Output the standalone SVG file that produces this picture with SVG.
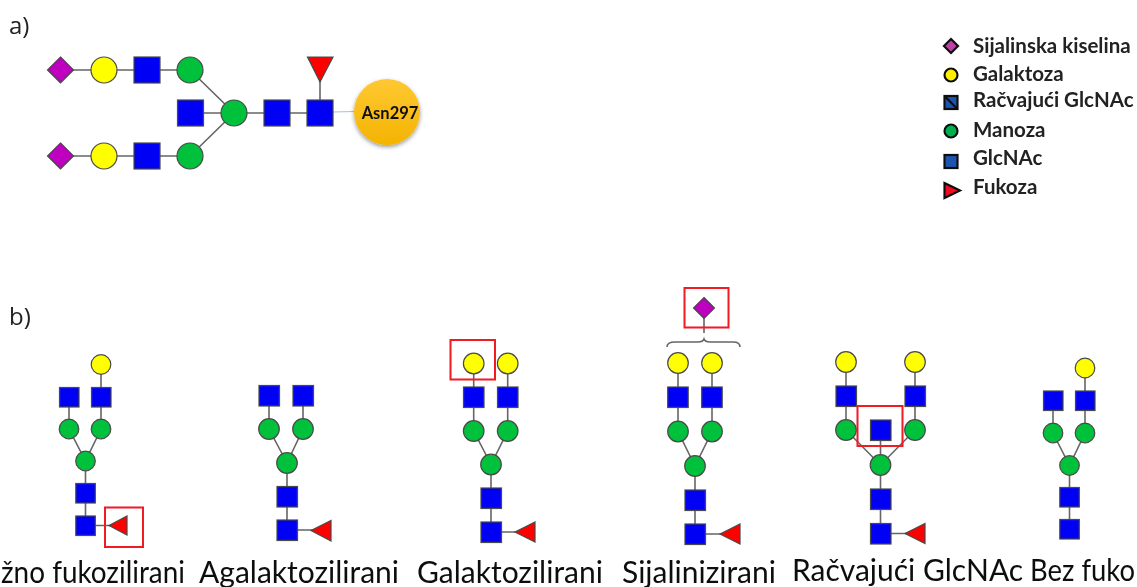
<svg xmlns="http://www.w3.org/2000/svg" width="1137" height="587" viewBox="0 0 1137 587">
<style>
.s{fill:#0000f5;stroke:#4a4a4a;stroke-width:1.2}
.g{fill:#00c13a;stroke:#4a4a4a;stroke-width:1.2}
.y{fill:#ffff00;stroke:#4a4a4a;stroke-width:1.2}
.d{fill:#c000c0;stroke:#4a4a4a;stroke-width:1.2}
.f{fill:#ff0000;stroke:#4a4a4a;stroke-width:1.2}
.c line,.c path{stroke:#666;stroke-width:1.6;fill:none}
.r{fill:none;stroke:#f01a24;stroke-width:2}
.t{font-family:Lato,"Liberation Sans",sans-serif;font-size:30px;fill:#111}
.l{font-family:"Open Sans","Liberation Sans",sans-serif;font-size:24px;fill:#222}
.k{font-family:Lato,"Liberation Sans",sans-serif;font-size:20.500px;font-weight:700;fill:#222}
.ls{stroke:#111;stroke-width:2.200}
</style>
<defs>
<linearGradient id="asnG" x1="0" y1="0" x2="0" y2="1"><stop offset="0" stop-color="#ffc833"/><stop offset="1" stop-color="#f4b400"/></linearGradient>
<filter id="sh" x="-20%" y="-20%" width="140%" height="140%"><feDropShadow dx="0" dy="2" stdDeviation="2" flood-color="#000" flood-opacity=".4"/></filter>
<filter id="soft" x="0" y="0" width="100%" height="100%"><feGaussianBlur stdDeviation="0.450"/></filter>
</defs>
<rect width="1137" height="587" fill="#fff"/>
<g filter="url(#soft)">
<text class="l" x="9" y="34">a)</text>
<text class="l" x="9" y="325">b)</text>
<g class="c" id="connectors">
<path d="M60 70H190M60 156H190M190 113H320M320 113V70M190 70L234 113L190 156"/>
<line x1="333" y1="112" x2="355" y2="111.500" style="stroke:#a9bddb;stroke-width:1"/>
<path d="M101 364V429L85.500 461M69 397V429L85.500 461M85.500 461V525.500H115"/>
<path d="M303 395V429L287 463M269 395V429L287 463M287 463V530H320"/>
<path d="M473.700 363.500V431L491 464.500M507.700 363.500V431L491 464.500M491 464.500V532H525"/>
<path d="M704 308V333M667 347Q667 342 675 342H698Q703 342 704 339Q705 342 710 342H733Q740 342 740 347"/>
<path d="M678 363V431.500L695 466M712 363V431.500L695 466M695 466V534H730"/>
<path d="M846 362V430L880.500 465M915 362V430L880.500 465M880.500 430V533.500H915"/>
<path d="M1085 368V433L1069.500 465.500M1053 400.500V433L1069.500 465.500M1069.500 465.500V529"/>
</g>
<g id="a-d1"><path class="d" d="M60.500 57L73.500 70L60.500 83L47.500 70Z"/></g>
<g id="a-y1"><circle class="y" cx="104" cy="70" r="13"/></g>
<g id="a-s1"><rect class="s" x="134" y="57" width="26" height="26"/></g>
<g id="a-g1"><circle class="g" cx="190" cy="70" r="13"/></g>
<g id="a-s2"><rect class="s" x="177.500" y="100" width="26" height="26"/></g>
<g id="a-g2"><circle class="g" cx="234" cy="113" r="13"/></g>
<g id="a-s3"><rect class="s" x="264" y="100" width="26" height="26"/></g>
<g id="a-s4"><rect class="s" x="307" y="100" width="26" height="26"/></g>
<g id="a-f"><path class="f" d="M307.500 57H333L320 82Z"/></g>
<g id="a-d2"><path class="d" d="M60.500 143L73.500 156L60.500 169L47.500 156Z"/></g>
<g id="a-y2"><circle class="y" cx="104" cy="156" r="13"/></g>
<g id="a-s5"><rect class="s" x="134" y="143" width="26" height="26"/></g>
<g id="a-g3"><circle class="g" cx="190" cy="156" r="13"/></g>
<g id="a-asn"><circle cx="387" cy="112" r="33" fill="url(#asnG)" filter="url(#sh)"/><text x="390" y="119" text-anchor="middle" font-family="Lato,'Liberation Sans',sans-serif" font-size="16.500" font-weight="700" fill="#111">Asn297</text></g>

<g id="legend">
<g id="lg-sia"><path d="M951 39L958 46L951 53L944 46Z" fill="#c040a8" class="ls"/><text class="k" x="973" y="53">Sijalinska kiselina</text></g>
<g id="lg-gal"><circle cx="951" cy="75" r="6.500" fill="#ffee00" class="ls"/><text class="k" x="973" y="80.500">Galaktoza</text></g>
<g id="lg-bis"><rect x="944.500" y="96" width="13" height="13" fill="#1f55b0" class="ls"/><line x1="944.500" y1="96" x2="957.500" y2="109" class="ls" stroke-width="1.500"/><text class="k" x="973" y="107">Račvajući GlcNAc</text></g>
<g id="lg-man"><circle cx="951" cy="131" r="6.500" fill="#00b050" class="ls"/><text class="k" x="973" y="137">Manoza</text></g>
<g id="lg-glc"><rect x="944.500" y="155" width="13" height="13" fill="#1f55b0" class="ls"/><text class="k" x="973" y="165">GlcNAc</text></g>
<g id="lg-fuc"><path d="M944.500 183V198L960 190.500Z" fill="#f01020" class="ls"/><text class="k" x="973" y="194">Fukoza</text></g>
</g>

<g id="b1-y"><circle class="y" cx="101" cy="364.500" r="9.800"/></g>
<g id="b1-s1"><rect class="s" x="59.500" y="387.500" width="19.500" height="19.500"/></g>
<g id="b1-s2"><rect class="s" x="91.500" y="387.500" width="19.500" height="19.500"/></g>
<g id="b1-g1"><circle class="g" cx="69" cy="429" r="9.800"/></g>
<g id="b1-g2"><circle class="g" cx="101" cy="429" r="9.800"/></g>
<g id="b1-g3"><circle class="g" cx="85.500" cy="461" r="9.800"/></g>
<g id="b1-s3"><rect class="s" x="75.800" y="483.500" width="19.500" height="19.500"/></g>
<g id="b1-s4"><rect class="s" x="75.800" y="516" width="19.500" height="19.500"/></g>
<g id="b1-f"><path class="f" d="M109 525.500L127 516V535Z"/></g>
<rect id="b1-box" class="r" x="105" y="507.500" width="38" height="39.500"/>

<g id="b2-s1"><rect class="s" x="259" y="385.500" width="20.500" height="20.500"/></g>
<g id="b2-s2"><rect class="s" x="293" y="385.500" width="20.500" height="20.500"/></g>
<g id="b2-g1"><circle class="g" cx="269" cy="429" r="10.300"/></g>
<g id="b2-g2"><circle class="g" cx="303" cy="429" r="10.300"/></g>
<g id="b2-g3"><circle class="g" cx="287" cy="463" r="10.300"/></g>
<g id="b2-s3"><rect class="s" x="277" y="486.500" width="20.500" height="20.500"/></g>
<g id="b2-s4"><rect class="s" x="277" y="520" width="20.500" height="20.500"/></g>
<g id="b2-f"><path class="f" d="M311 530.500L331 520.500V541Z"/></g>

<g id="b3-y1"><circle class="y" cx="473.700" cy="363.500" r="10.300"/></g>
<g id="b3-y2"><circle class="y" cx="507.700" cy="363.500" r="10.300"/></g>
<g id="b3-s1"><rect class="s" x="463.500" y="387" width="20.500" height="20.500"/></g>
<g id="b3-s2"><rect class="s" x="497.500" y="387" width="20.500" height="20.500"/></g>
<g id="b3-g1"><circle class="g" cx="473.700" cy="431" r="10.300"/></g>
<g id="b3-g2"><circle class="g" cx="507.700" cy="431" r="10.300"/></g>
<g id="b3-g3"><circle class="g" cx="491" cy="464.500" r="10.300"/></g>
<g id="b3-s3"><rect class="s" x="481" y="488" width="20.500" height="20.500"/></g>
<g id="b3-s4"><rect class="s" x="481" y="522" width="20.500" height="20.500"/></g>
<g id="b3-f"><path class="f" d="M515 532L535 522V542Z"/></g>
<rect id="b3-box" class="r" x="450.500" y="340" width="44.500" height="39.500"/>

<g id="b4-d"><path class="d" d="M704 297.500L714.500 308L704 318.500L693.500 308Z"/></g>
<rect id="b4-box" class="r" x="684.500" y="288" width="44" height="39.500"/>
<g id="b4-y1"><circle class="y" cx="678" cy="363" r="10.300"/></g>
<g id="b4-y2"><circle class="y" cx="712" cy="363" r="10.300"/></g>
<g id="b4-s1"><rect class="s" x="667.700" y="387" width="20.500" height="20.500"/></g>
<g id="b4-s2"><rect class="s" x="701.700" y="387" width="20.500" height="20.500"/></g>
<g id="b4-g1"><circle class="g" cx="678" cy="431.500" r="10.300"/></g>
<g id="b4-g2"><circle class="g" cx="712" cy="431.500" r="10.300"/></g>
<g id="b4-g3"><circle class="g" cx="695" cy="466" r="10.300"/></g>
<g id="b4-s3"><rect class="s" x="685" y="490" width="20.500" height="20.500"/></g>
<g id="b4-s4"><rect class="s" x="685" y="524" width="20.500" height="20.500"/></g>
<g id="b4-f"><path class="f" d="M720 534L740 524V544Z"/></g>

<g id="b5-y1"><circle class="y" cx="846" cy="362" r="10.300"/></g>
<g id="b5-y2"><circle class="y" cx="915" cy="362" r="10.300"/></g>
<g id="b5-s1"><rect class="s" x="836" y="386" width="20.500" height="20.500"/></g>
<g id="b5-s2"><rect class="s" x="905" y="386" width="20.500" height="20.500"/></g>
<g id="b5-g1"><circle class="g" cx="846" cy="430" r="10.300"/></g>
<g id="b5-g2"><circle class="g" cx="915" cy="430" r="10.300"/></g>
<g id="b5-s5"><rect class="s" x="870.500" y="420" width="20.500" height="20.500"/></g>
<g id="b5-g3"><circle class="g" cx="880.500" cy="465" r="10.300"/></g>
<g id="b5-s3"><rect class="s" x="870.500" y="489" width="20.500" height="20.500"/></g>
<g id="b5-s4"><rect class="s" x="870.500" y="523.500" width="20.500" height="20.500"/></g>
<g id="b5-f"><path class="f" d="M905 533.500L925 523.500V543.500Z"/></g>
<rect id="b5-box" class="r" x="857.500" y="406" width="45" height="40"/>

<g id="b6-y"><circle class="y" cx="1085" cy="368" r="9.800"/></g>
<g id="b6-s1"><rect class="s" x="1043.500" y="391" width="19.500" height="19.500"/></g>
<g id="b6-s2"><rect class="s" x="1075.500" y="391" width="19.500" height="19.500"/></g>
<g id="b6-g1"><circle class="g" cx="1053" cy="433" r="9.800"/></g>
<g id="b6-g2"><circle class="g" cx="1085" cy="433" r="9.800"/></g>
<g id="b6-g3"><circle class="g" cx="1069.500" cy="465.500" r="9.800"/></g>
<g id="b6-s3"><rect class="s" x="1059.800" y="487.500" width="19.500" height="19.500"/></g>
<g id="b6-s4"><rect class="s" x="1059.800" y="519.500" width="19.500" height="19.500"/></g>

<text class="t" x="1" y="583" textLength="184" lengthAdjust="spacingAndGlyphs">žno fukozilirani</text>
<text class="t" x="199" y="583">Agalaktozilirani</text>
<text class="t" x="417" y="583">Galaktozilirani</text>
<text class="t" x="622" y="583">Sijalinizirani</text>
<text class="t" x="792" y="581">Račvajući GlcNAc</text>
<text class="t" x="1030" y="581" textLength="105" lengthAdjust="spacingAndGlyphs">Bez fuko</text>
</g>
</svg>
